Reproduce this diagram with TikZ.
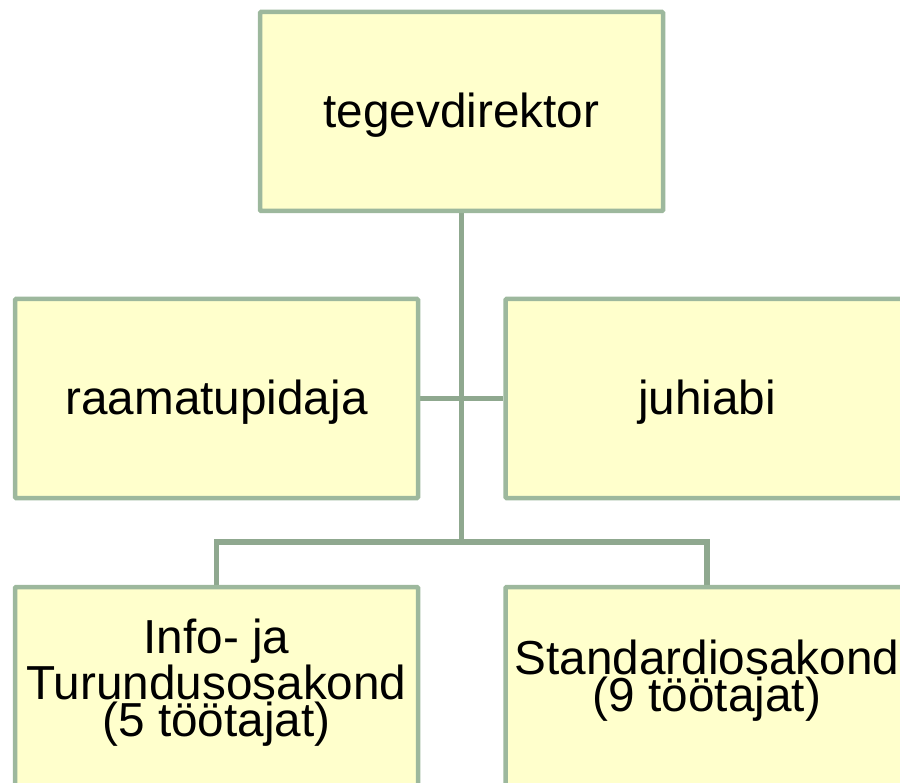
\documentclass[tikz,border=0pt]{standalone}
\usepackage{fontspec}
\setmainfont{Liberation Sans}
\definecolor{boxfill}{HTML}{FFFFCC}
\definecolor{boxline}{HTML}{9DB89D}
\definecolor{conline}{HTML}{8FA88F}
\pgfdeclarelayer{bg}
\pgfsetlayers{bg,main}
\tikzset{
  orgbox/.style={draw=boxline, line width=4.5pt, fill=boxfill, rounded corners=1pt,
    minimum width=403pt, minimum height=199pt, inner sep=0pt},
  orgtext/.style={inner sep=0pt, align=center, font=\fontsize{47.7}{37}\selectfont},
  conn/.style={draw=conline, line width=5.5pt}
}
\begin{document}
\begin{tikzpicture}[x=1pt,y=-1pt]
\useasboundingbox (0,0) rectangle (900,783);
\clip (0,0) rectangle (900,783);
\node[orgbox] (top) at (461.5,111.5) {};
\node[orgbox] (ml) at (216.5,398.5) {};
\node[orgbox] (mr) at (707,398.5) {};
\node[orgbox] (bl) at (216.5,686.5) {};
\node[orgbox] (br) at (707,686.5) {};
\node[orgtext, yshift=-4pt] (ttop) at (top.center) {tegevdirektor};
\node[orgtext, yshift=-4pt] (tml) at (ml.center) {raamatupidaja};
\node[orgtext, yshift=-4pt] (tmr) at (mr.center) {juhiabi};
\node[orgtext, yshift=4pt] (tbl) at (bl.center) {Info- ja\\Turundusosakond\\(5 töötajat)};
\node[orgtext, yshift=6pt] (tbr) at (br.center) {Standardiosakond\\(9 töötajat)};
\coordinate (j) at (461.5,542);
\coordinate (jl) at (216.5,542);
\coordinate (jr) at (707,542);
\begin{pgfonlayer}{bg}
\draw[conn] (top.south) -- (j);
\draw[conn] (ml.east) -- (mr.west);
\draw[conn, line cap=rect] (jl) -- (jr);
\draw[conn] (jl) -- (bl.north);
\draw[conn] (jr) -- (br.north);
\end{pgfonlayer}
\end{tikzpicture}
\end{document}
